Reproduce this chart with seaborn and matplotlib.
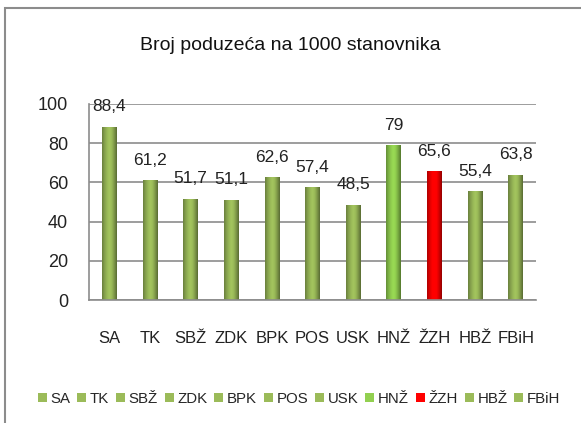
import matplotlib
matplotlib.use("Agg")
import matplotlib.pyplot as plt
import seaborn as sns
import pandas as pd
import numpy as np
from matplotlib.patches import Rectangle, Patch
from matplotlib.colors import to_rgb
from matplotlib import font_manager

categories = ["SA", "TK", "SBŽ", "ZDK", "BPK", "POS", "USK", "HNŽ", "ŽZH", "HBŽ", "FBiH"]
values = [88.4, 61.2, 51.7, 51.1, 62.6, 57.4, 48.5, 79, 65.6, 55.4, 63.8]
bar_colors = ["#9BBB59", "#9BBB59", "#9BBB59", "#9BBB59", "#9BBB59", "#9BBB59",
              "#9BBB59", "#92D050", "#FF0000", "#9BBB59", "#9BBB59"]
yticks = [0, 20, 40, 60, 80, 100]
title = "Broj poduzeća na 1000 stanovnika"

sns.set_theme(style="white")
names = {f.name for f in font_manager.fontManager.ttflist}
fam = "Liberation Sans Narrow" if "Liberation Sans Narrow" in names else "Liberation Sans"
plt.rcParams["font.family"] = [fam, "DejaVu Sans"]

df = pd.DataFrame({"cat": categories, "val": values})

fig = plt.figure(figsize=(5.81, 4.23), dpi=100)
W, H = 581, 423
ax = fig.add_axes([89 / W, 1 - 300 / H, (536 - 89) / W, (300 - 104) / H])

sns.barplot(data=df, x="cat", y="val", hue="cat", palette=bar_colors, order=categories,
            hue_order=categories, width=0.36, legend=False, ax=ax, saturation=1,
            edgecolor="none")

ax.set_ylim(0, 100)
ax.set_xlim(-0.5, len(categories) - 0.5)

# cylinder-like shading on each bar
grad = np.linspace(-1, 1, 64)
shade = 1 - 0.35 * np.abs(grad) ** 1.5 - 0.15 * (grad > 0.3) * (grad - 0.3)
for patch in ax.patches:
    base = np.array(to_rgb(patch.get_facecolor()))
    img = np.clip(base[None, None, :] * shade[None, :, None] * 1.05, 0, 1)
    x0, y0 = patch.get_x(), patch.get_y()
    w, h = patch.get_width(), patch.get_height()
    im = ax.imshow(img, extent=(x0, x0 + w, y0, y0 + h), aspect="auto",
                   interpolation="bilinear", zorder=patch.get_zorder() + 0.1)
    im.set_clip_path(patch)

ax.set_ylim(0, 100)
ax.set_xlim(-0.5, len(categories) - 0.5)
ax.set_yticks(yticks)
ax.set_yticklabels([str(v) for v in yticks], fontsize=13, color="#222222")
ax.yaxis.grid(True, color="#8C8C8C", linewidth=1.2)
ax.set_axisbelow(True)
ax.set_xlabel("")
ax.set_ylabel("")
ax.tick_params(axis="x", which="major", length=0, labelsize=12, pad=22, colors="#222222")
ax.set_xticks(np.arange(-0.5, len(categories), 1), minor=True)
ax.tick_params(axis="x", which="minor", length=6, width=1.2, color="#8C8C8C", direction="out")
ax.tick_params(axis="y", length=5, width=1.2, color="#8C8C8C", direction="out", pad=10)
for s in ["top", "right"]:
    ax.spines[s].set_visible(False)
for s in ["left", "bottom"]:
    ax.spines[s].set_color("#8C8C8C")
    ax.spines[s].set_linewidth(1.2)

for cont in ax.containers:
    labs = [("%g" % v).replace(".", ",") for v in cont.datavalues]
    ax.bar_label(cont, labels=labs, padding=9, fontsize=12.5, color="#222222")

fig.text(0.5, 1 - 45 / H, title, ha="center", va="center", fontsize=14, color="#111111")

handles = [Patch(facecolor=c, edgecolor="none") for c in bar_colors]
fig.legend(handles, categories, loc="center", bbox_to_anchor=(0.515, 1 - 399 / H), ncol=11,
           frameon=False, fontsize=10.8, handlelength=0.6, handleheight=0.6,
           handletextpad=0.25, columnspacing=0.45, borderaxespad=0)

fig.add_artist(Rectangle((5 / W, -0.1), 1.2, 1 - 8 / H + 0.1, transform=fig.transFigure,
                         fill=False, edgecolor="#8C8C8C", linewidth=1.5))

fig.savefig("out.png", dpi=100)
